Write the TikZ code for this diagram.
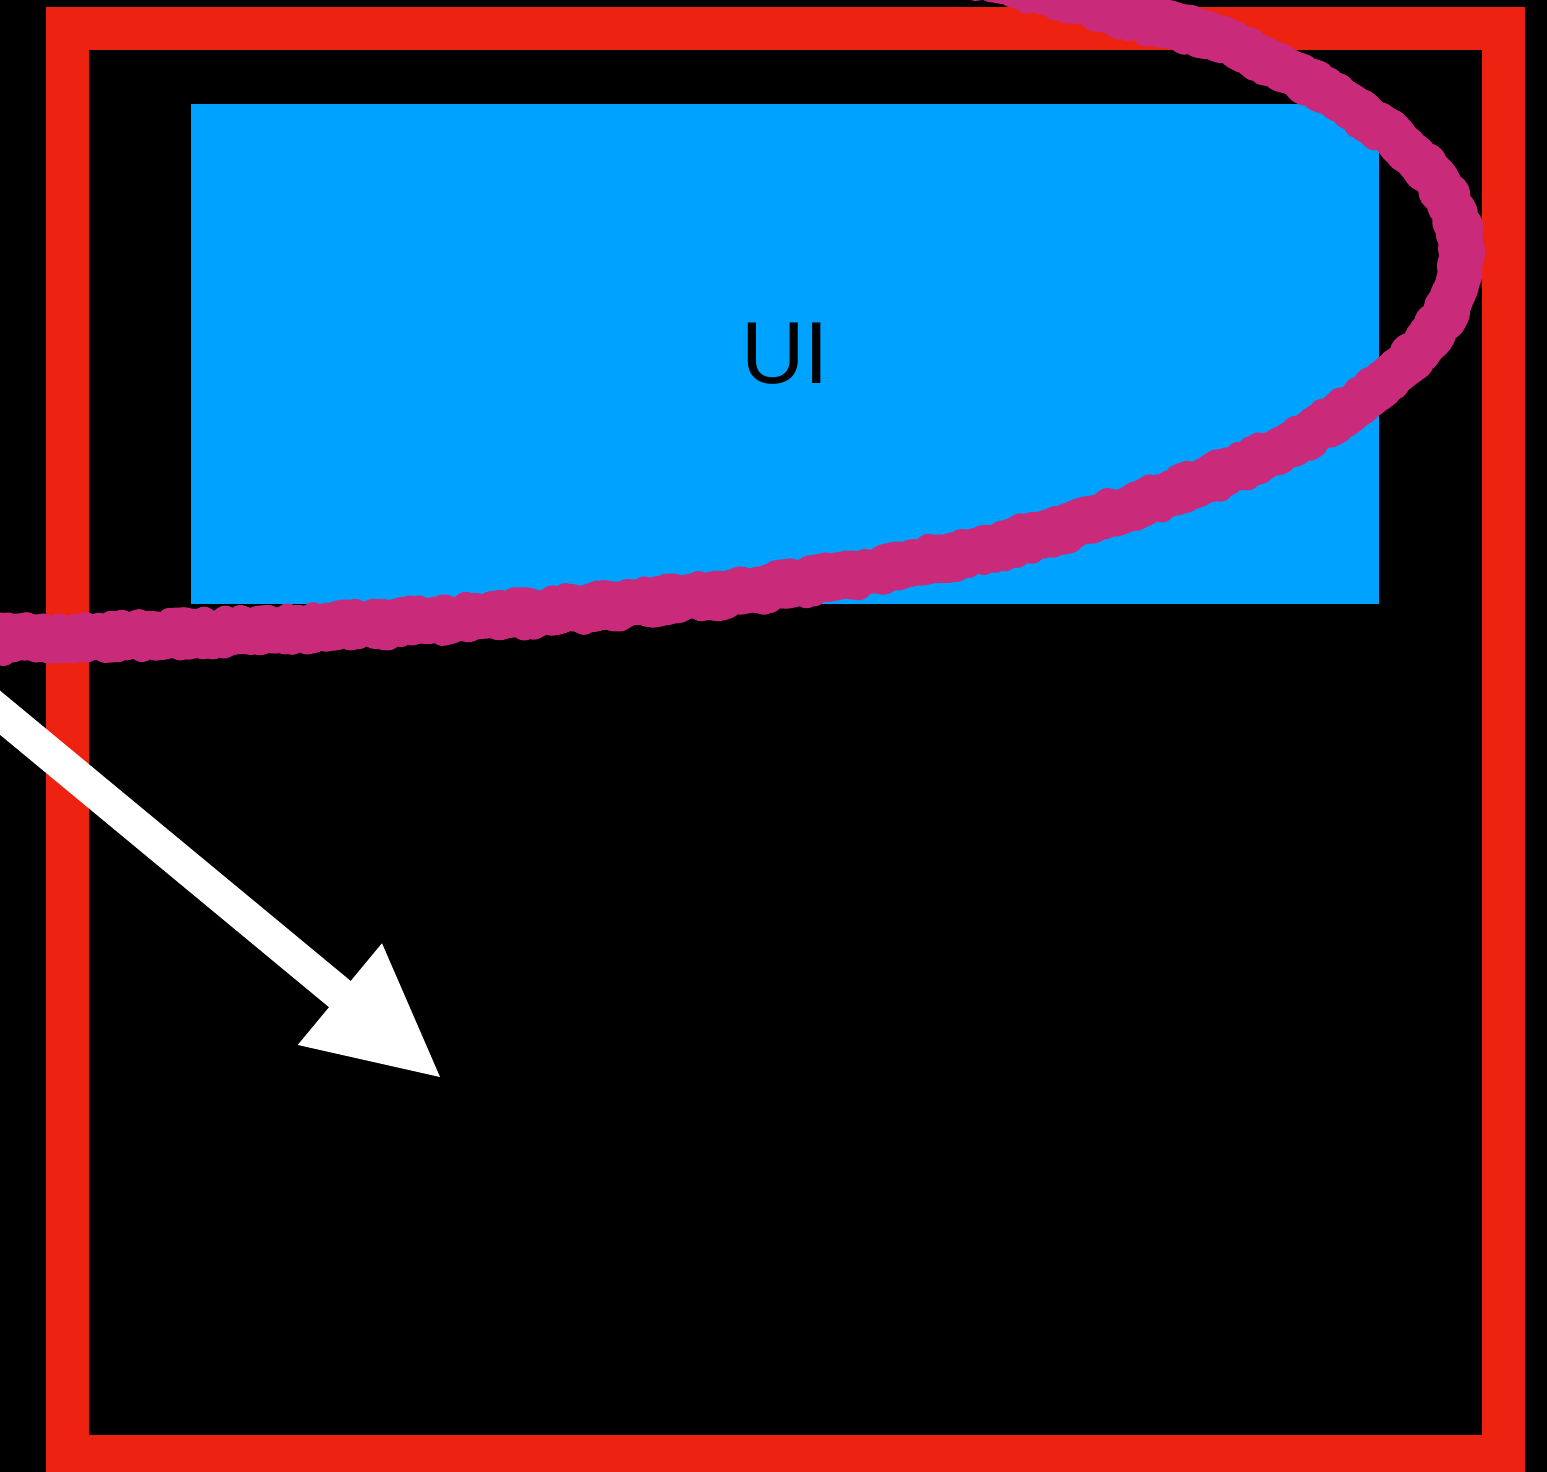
\documentclass[tikz,border=0pt]{standalone}
\usepackage{fontspec}
\setmainfont{Liberation Sans}
\usetikzlibrary{calc,decorations.pathmorphing}
\definecolor{frameRed}{RGB}{238,34,17}
\definecolor{uiBlue}{RGB}{0,162,255}
\definecolor{scribble}{RGB}{201,42,122}
\tikzset{
  frame/.style={draw=frameRed, line width=43pt},
  uibox/.style={fill=uiBlue, draw=none, minimum width=1188pt, minimum height=500pt, inner sep=0pt, font=\fontsize{88}{88}\selectfont, text=black},
  loop/.style={draw=scribble, line width=44pt, line join=round, decorate, decoration={random steps, segment length=6pt, amplitude=2.5pt}},
  looprag/.style={draw=scribble, line width=26pt, line join=round, decorate, decoration={random steps, segment length=5pt, amplitude=4pt}},
  bigarrow/.style={draw=white, line width=34pt},
  arrowhead/.style={fill=white, draw=none}
}
\begin{document}
\begin{tikzpicture}[x=1pt,y=-1pt]
\pgfmathsetseed{7}
\useasboundingbox (0,0) rectangle (1547,1472);
\clip (0,0) rectangle (1547,1472);
\fill[black] (0,0) rectangle (1547,1472);
% red frame
\draw[frame] (67.5,29) rectangle (1503,1456.5);
% UI box
\node[uibox] (ui) at (785,354) {UI};
% scribbled loop
\def\looppath{plot[smooth, tension=0.55] coordinates {
   (619,-91) (762,-70) (894,-45) (1016,-16) (1125,14) (1220,40) (1301,78)
   (1366,117) (1415,157) (1447,198) (1461,240) (1458,280) (1440,322)
   (1404,365) (1352,407) (1285,447) (1200,483) (1100,517) (990,548)
   (865,572) (730,593) (585,608) (430,621) (270,630) (100,637) (-71,640) (-238,639)}}
\draw[loop] \looppath;
\begin{scope}[yshift=-10pt]
\draw[looprag] \looppath;
\end{scope}
\begin{scope}[yshift=10pt]
\draw[looprag] \looppath;
\end{scope}
% arrow
\coordinate (astart) at (-60,663);
\coordinate (atip) at (440,1077);
\coordinate (abase) at ($(atip)!130pt!(astart)$);
\coordinate (ashaftend) at ($(atip)!122pt!(astart)$);
\draw[bigarrow] (astart) -- (ashaftend);
\fill[arrowhead] (atip) -- ($(abase)!66pt!90:(atip)$) -- ($(abase)!66pt!-90:(atip)$) -- cycle;
\end{tikzpicture}
\end{document}
